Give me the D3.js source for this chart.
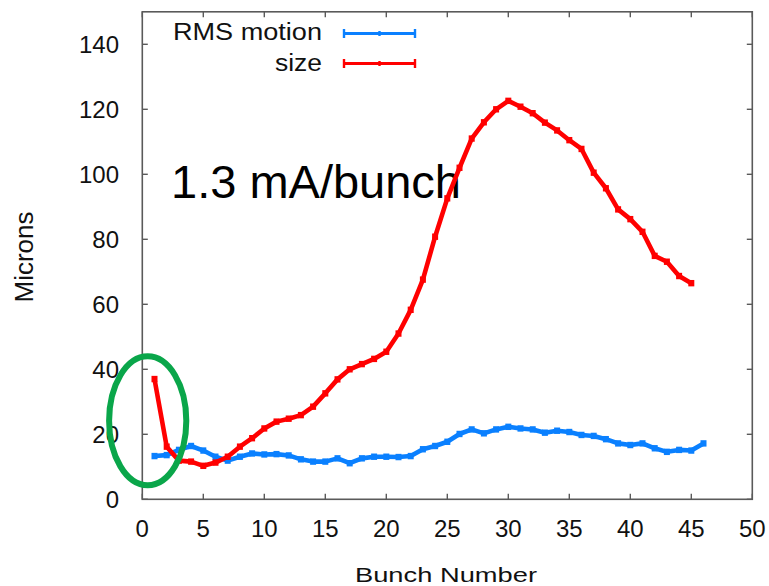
<!DOCTYPE html>
<html>
<head>
<meta charset="utf-8">
<script src="https://cdn.jsdelivr.net/npm/d3@7"></script>
<style>
  html, body { margin: 0; padding: 0; background: #fff; }
  svg { display: block; font-family: "Liberation Sans", Arial, sans-serif; }
</style>
</head>
<body>
<svg id="chart" width="769" height="586"></svg>
<script>
// Bunch numbers and measured values (microns)
const rmsBunch = d3.range(1, 47);
const rmsMotion = [13.3, 13.6, 15.2, 16.4, 15.0, 13.1, 11.9, 13.1, 14.1, 13.8,
                   13.9, 13.5, 12.3, 11.6, 11.6, 12.6, 11.1, 12.6, 13.1, 13.1,
                   13.0, 13.3, 15.4, 16.4, 17.7, 20.1, 21.5, 20.3, 21.5, 22.3,
                   21.8, 21.5, 20.5, 21.1, 20.7, 19.8, 19.5, 18.5, 17.2, 16.7,
                   17.2, 15.7, 14.6, 15.2, 15.0, 17.2];
const sizeBunch = d3.range(1, 46);
const sizeValues = [37.0, 16.2, 11.9, 11.6, 10.3, 11.3, 13.1, 16.2, 18.8, 21.8,
                    23.9, 24.8, 25.9, 28.5, 32.6, 36.9, 40.0, 41.6, 43.2, 45.4,
                    51.0, 58.3, 67.6, 80.8, 92.6, 102.0, 111.0, 116.0, 120.0, 122.6,
                    120.8, 118.8, 115.9, 113.5, 110.5, 107.8, 100.5, 95.7, 89.2, 86.2,
                    82.3, 74.9, 73.1, 68.7, 66.5];
const xTicks = d3.range(0, 51, 5);
const yTicks = d3.range(0, 141, 20);

const svg = d3.select("#chart");
const plotLeft = 142.3, plotRight = 752.3, plotTop = 11.8, plotBottom = 499.3;

const x = d3.scaleLinear().domain([0, 50]).range([plotLeft, plotRight]);
const y = d3.scaleLinear().domain([0, 150]).range([plotBottom, plotTop]);

const frameColor = "#5a5a5a";
const textColor = "#111";

// Plot border
svg.append("rect")
  .attr("x", plotLeft).attr("y", plotTop)
  .attr("width", plotRight - plotLeft).attr("height", plotBottom - plotTop)
  .attr("fill", "none").attr("stroke", frameColor).attr("stroke-width", 1.6);

// Inward ticks on all four sides
const tickLen = 5.5;
const tickG = svg.append("g").attr("stroke", frameColor).attr("stroke-width", 1.4);
xTicks.forEach(t => {
  tickG.append("line").attr("x1", x(t)).attr("x2", x(t)).attr("y1", plotBottom).attr("y2", plotBottom - tickLen);
  tickG.append("line").attr("x1", x(t)).attr("x2", x(t)).attr("y1", plotTop).attr("y2", plotTop + tickLen);
});
yTicks.forEach(t => {
  tickG.append("line").attr("x1", plotLeft).attr("x2", plotLeft + tickLen).attr("y1", y(t)).attr("y2", y(t));
  tickG.append("line").attr("x1", plotRight).attr("x2", plotRight - tickLen).attr("y1", y(t)).attr("y2", y(t));
});

// Tick labels
svg.append("g").selectAll("text").data(xTicks).join("text")
  .attr("x", d => x(d)).attr("y", 537)
  .attr("text-anchor", "middle").attr("font-size", 24).attr("fill", textColor)
  .text(d => d);
svg.append("g").selectAll("text").data(yTicks).join("text")
  .attr("x", 119).attr("y", d => y(d) + 8.5)
  .attr("text-anchor", "end").attr("font-size", 24).attr("fill", textColor)
  .text(d => d);

// Axis titles
svg.append("text")
  .attr("transform", "translate(33,257) rotate(-90)")
  .attr("text-anchor", "middle").attr("font-size", 25).attr("fill", textColor)
  .attr("textLength", 91).attr("lengthAdjust", "spacingAndGlyphs")
  .text("Microns");
svg.append("text")
  .attr("x", 446).attr("y", 582)
  .attr("text-anchor", "middle").attr("font-size", 21).attr("fill", textColor)
  .attr("textLength", 182).attr("lengthAdjust", "spacingAndGlyphs")
  .text("Bunch Number");

// Annotation
svg.append("text")
  .attr("x", 171).attr("y", 198)
  .attr("font-size", 47).attr("fill", "#000")
  .attr("textLength", 290).attr("lengthAdjust", "spacingAndGlyphs")
  .text("1.3 mA/bunch");

// Data series
const series = [
  { name: "RMS motion", xs: rmsBunch, ys: rmsMotion, color: "#0a80ff", ly: 33.5, labelY: 40, labelLen: 149 },
  { name: "size", xs: sizeBunch, ys: sizeValues, color: "#ff0000", ly: 63.5, labelY: 70.5, labelLen: 47 }
];

const line = d3.line().x(d => x(d[0])).y(d => y(d[1]));

series.forEach(s => {
  const pts = s.xs.map((b, i) => [b, s.ys[i]]);
  const g = svg.append("g");
  g.append("path").datum(pts)
    .attr("d", line)
    .attr("fill", "none").attr("stroke", s.color)
    .attr("stroke-width", 4.6).attr("stroke-linejoin", "round");
  g.selectAll("rect").data(pts).join("rect")
    .attr("x", d => x(d[0]) - 3).attr("y", d => y(d[1]) - 3.2)
    .attr("width", 6).attr("height", 6.4)
    .attr("fill", s.color);

  // Legend entry
  svg.append("text")
    .attr("x", 322).attr("y", s.labelY)
    .attr("text-anchor", "end").attr("font-size", 23).attr("fill", textColor)
    .attr("textLength", s.labelLen).attr("lengthAdjust", "spacingAndGlyphs")
    .text(s.name);
  const lg = svg.append("g").attr("stroke", s.color);
  lg.append("line").attr("x1", 343).attr("x2", 416).attr("y1", s.ly).attr("y2", s.ly).attr("stroke-width", 3.2);
  lg.append("line").attr("x1", 344).attr("x2", 344).attr("y1", s.ly - 4.5).attr("y2", s.ly + 4.5).attr("stroke-width", 2.4);
  lg.append("line").attr("x1", 415).attr("x2", 415).attr("y1", s.ly - 4.5).attr("y2", s.ly + 4.5).attr("stroke-width", 2.4);
  lg.append("line").attr("x1", 379.5).attr("x2", 379.5).attr("y1", s.ly - 2.5).attr("y2", s.ly + 2.5).attr("stroke-width", 2.4);
});

// Highlight ring around the first bunches
svg.append("ellipse")
  .attr("cx", 147.7).attr("cy", 420.8)
  .attr("rx", 38.6).attr("ry", 64.5)
  .attr("fill", "none").attr("stroke", "#0aa64a").attr("stroke-width", 6);
</script>
</body>
</html>
